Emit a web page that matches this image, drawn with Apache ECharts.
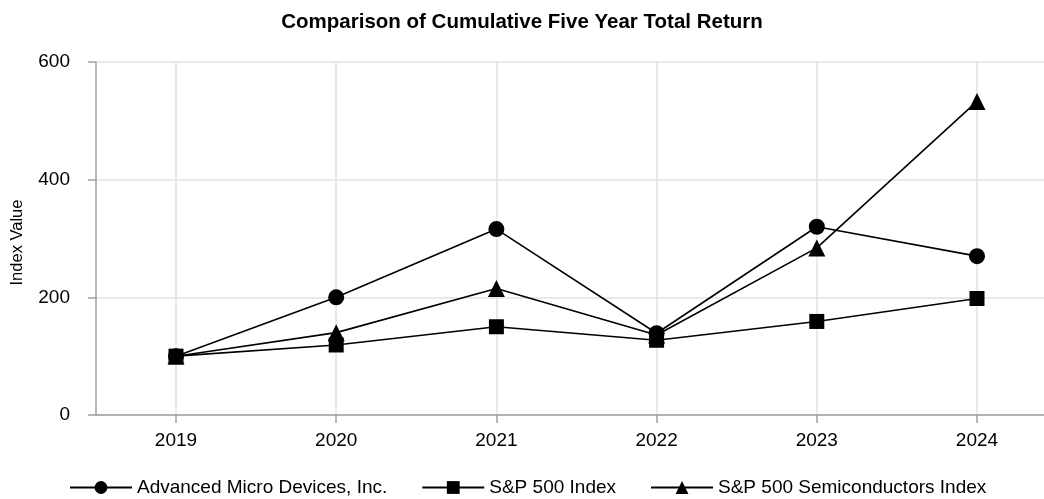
<!DOCTYPE html>
<html><head><meta charset="utf-8">
<script src="https://cdn.jsdelivr.net/npm/echarts@6/dist/echarts.min.js"></script>
<style>html,body{margin:0;padding:0;background:#fff}#c{width:1044px;height:499px}</style>
</head><body><div id="c"></div>
<script>
const years = ['2019','2020','2021','2022','2023','2024'];
const amd = [100, 200, 316, 139, 320, 270];
const sp500 = [100, 119, 150, 127, 159, 198];
const semis = [100, 140, 215, 136, 284, 533];
const yTicks = [0, 200, 400, 600];
const seriesNames = ['Advanced Micro Devices, Inc.', 'S&P 500 Index', 'S&P 500 Semiconductors Index'];

(function(){
const FONT = '"Liberation Sans", Arial, sans-serif';
const chart = echarts.init(document.getElementById('c'), null, {renderer:'canvas'});
const gTop = 62, gBottom = 84;
function mk(name, data, sym, size){
  return {name, type:'line', data, xAxisIndex:1, yAxisIndex:1, symbol:sym, symbolSize:size,
    lineStyle:{color:'#000', width:1.6}, itemStyle:{color:'#000'}, color:'#000', animation:false, z:5};
}
chart.setOption({
  animation:false,
  textStyle:{fontFamily:FONT},
  title:{text:'Comparison of Cumulative Five Year Total Return', left:'center', top:7,
    textStyle:{fontFamily:FONT, fontSize:20.5, fontWeight:'bold', color:'#000'}},
  legend:{bottom:-3, left:64, itemWidth:62, itemHeight:16, itemGap:34,
    textStyle:{fontFamily:FONT, fontSize:19, color:'#000'}, data:seriesNames},
  grid:[
    {left:96, right:0, top:gTop, bottom:gBottom},
    {left:176, right:67, top:gTop, bottom:gBottom}
  ],
  xAxis:[
    {gridIndex:0, type:'value', min:0, max:1, axisLine:{show:true, lineStyle:{color:'#a0a0a0', width:1.5}},
      axisTick:{show:false}, axisLabel:{show:false}, splitLine:{show:false}},
    {gridIndex:1, type:'category', data:years, boundaryGap:false,
      axisLine:{show:false},
      axisTick:{show:true, length:8, lineStyle:{color:'#a0a0a0', width:1.5}},
      axisLabel:{fontFamily:FONT, fontSize:19, color:'#000', margin:16},
      splitLine:{show:true, lineStyle:{color:'#e2e2e2', width:1.5}}}
  ],
  yAxis:[
    {gridIndex:0, type:'value', min:yTicks[0], max:yTicks[yTicks.length-1], interval:200,
      name:'Index Value', nameLocation:'middle', nameGap:70,
      nameTextStyle:{fontFamily:FONT, fontSize:16.5, color:'#000', padding:[0,8,0,0]},
      axisLine:{show:true, lineStyle:{color:'#a0a0a0', width:1.5}},
      axisTick:{show:true, length:8, lineStyle:{color:'#a0a0a0', width:1.5}},
      axisLabel:{fontFamily:FONT, fontSize:19, color:'#000', margin:26},
      splitLine:{show:true, lineStyle:{color:'#e2e2e2', width:1.5}}},
    {gridIndex:1, type:'value', min:yTicks[0], max:yTicks[yTicks.length-1], show:false, splitLine:{show:false}}
  ],
  series:[
    mk(seriesNames[0], amd, 'circle', 16),
    mk(seriesNames[1], sp500, 'rect', 15),
    mk(seriesNames[2], semis, 'triangle', 17)
  ]
});
})();
</script></body></html>
